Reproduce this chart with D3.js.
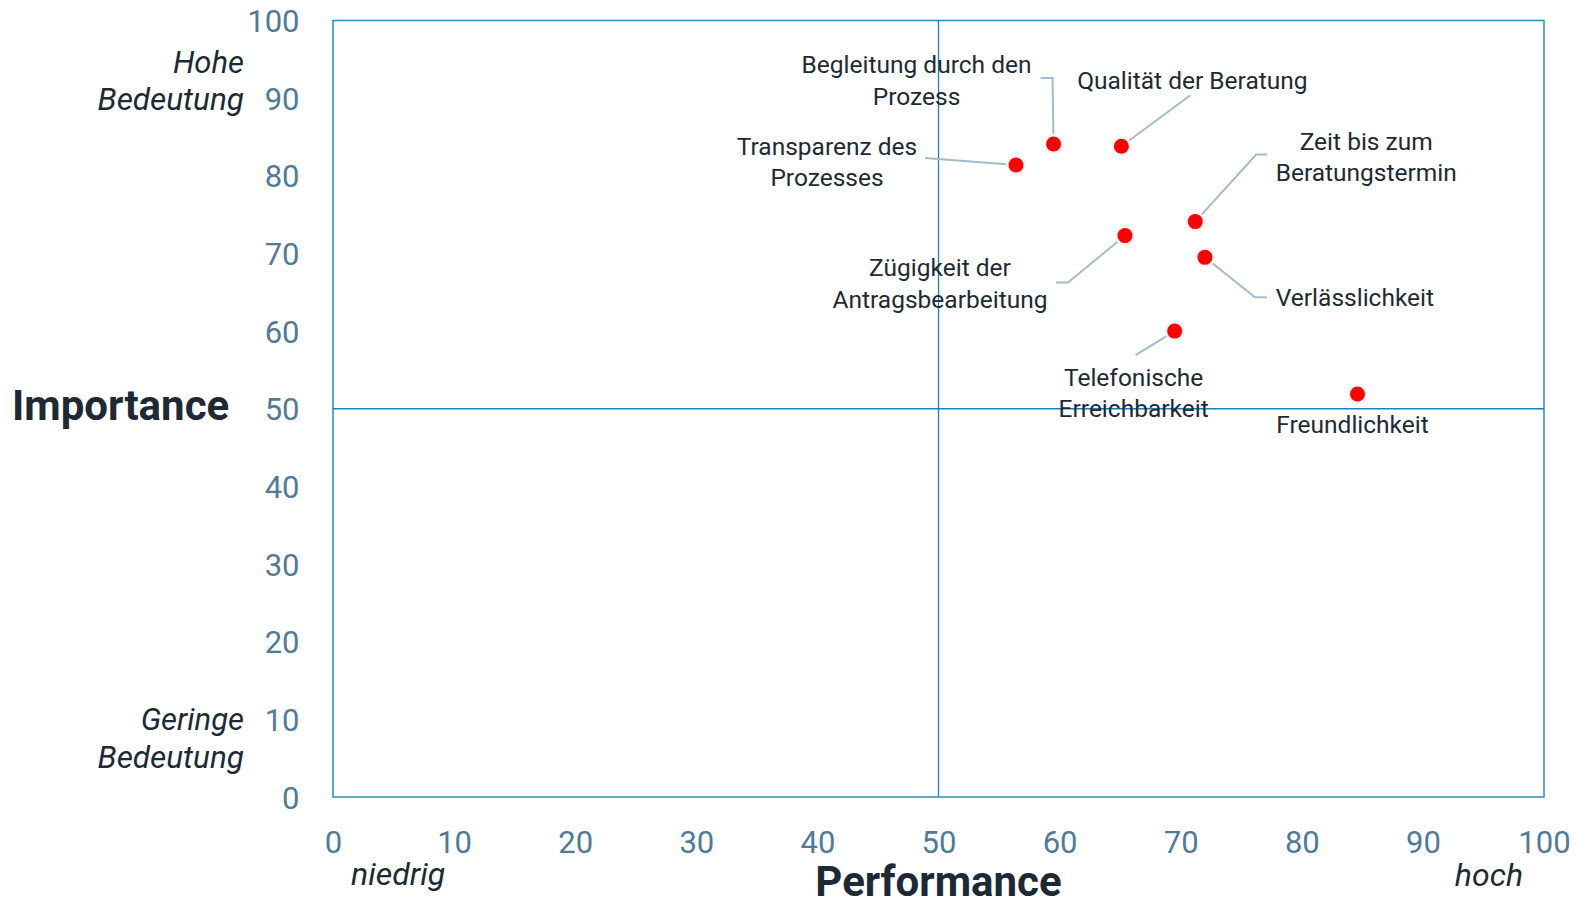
<!DOCTYPE html>
<html lang="de">
<head>
<meta charset="utf-8">
<title>Importance-Performance-Matrix</title>
<script src="https://cdn.jsdelivr.net/npm/d3@7"></script>
<style>
  html, body { margin: 0; padding: 0; background: #ffffff; }
  svg { display: block; font-family: Roboto, "Noto Sans", sans-serif; }
</style>
</head>
<body>
<svg id="chart" width="1577" height="899"></svg>
<script>
// Criteria rated by performance (x) and importance (y)
const criteria = [
  "Begleitung durch den Prozess",
  "Qualität der Beratung",
  "Transparenz des Prozesses",
  "Zeit bis zum Beratungstermin",
  "Zügigkeit der Antragsbearbeitung",
  "Verlässlichkeit",
  "Telefonische Erreichbarkeit",
  "Freundlichkeit"
];
const performance = [59.5, 65.1, 56.4, 71.2, 65.4, 72.0, 69.5, 84.6];
const importance  = [84.1, 83.8, 81.4, 74.1, 72.3, 69.5, 60.0, 51.9];

// Label lines as wrapped in the chart
const labelLines = [
  ["Begleitung durch den", "Prozess"],
  ["Qualität der Beratung"],
  ["Transparenz des", "Prozesses"],
  ["Zeit bis zum", "Beratungstermin"],
  ["Zügigkeit der", "Antragsbearbeitung"],
  ["Verlässlichkeit"],
  ["Telefonische", "Erreichbarkeit"],
  ["Freundlichkeit"]
];

const xTicks = [0, 10, 20, 30, 40, 50, 60, 70, 80, 90, 100];
const yTicks = [0, 10, 20, 30, 40, 50, 60, 70, 80, 90, 100];

// Label placement relative to each point (pixels): text centre and leader line
const labelLayout = [
  { dx: -137, dy: [-80, -48], leader: [[-1, -66], [-13, -66]] },
  { dx: 71,   dy: [-66],      leader: [[69, -51]] },
  { dx: -189, dy: [-19, 12],  leader: [[-91, -7]] },
  { dx: 171,  dy: [-80, -49], leader: [[61, -67], [72, -67]] },
  { dx: -185, dy: [32, 64],   leader: [[-57, 47], [-69, 47]] },
  { dx: 150,  dy: [40],       leader: [[50, 40], [62, 40]] },
  { dx: -41,  dy: [46, 77],   leader: [[-39, 24]] },
  { dx: -5,   dy: [30],       leader: [] }
];

const points = criteria.map((name, i) => ({
  name, x: performance[i], y: importance[i], lines: labelLines[i], layout: labelLayout[i]
}));

const svg = d3.select("#chart");
const plotLeft = 333, plotRight = 1544, plotTop = 20.5, plotBottom = 797;

const x = d3.scaleLinear().domain([0, 100]).range([plotLeft, plotRight]);
const y = d3.scaleLinear().domain([0, 100]).range([plotBottom, plotTop]);

const tickColor = "#4f7b99";
const textColor = "#1d2a36";
const frameColor = "#2a8bc0";

// Frame of the matrix
svg.append("rect")
  .attr("x", x(0)).attr("y", y(100))
  .attr("width", x(100) - x(0)).attr("height", y(0) - y(100))
  .attr("fill", "none")
  .attr("stroke", frameColor)
  .attr("stroke-width", 1.5);

// Quadrant dividers at 50 / 50
svg.append("line")
  .attr("x1", x(50)).attr("x2", x(50))
  .attr("y1", y(100)).attr("y2", y(0))
  .attr("stroke", "#1e80b8").attr("stroke-width", 1.3);
svg.append("line")
  .attr("x1", x(0)).attr("x2", x(100))
  .attr("y1", y(50)).attr("y2", y(50))
  .attr("stroke", "#1e80b8").attr("stroke-width", 1.3);

// Axes (tick labels only)
const xAxis = d3.axisBottom(x).tickValues(xTicks).tickSize(0).tickPadding(0);
const gx = svg.append("g").attr("transform", `translate(0, ${plotBottom})`).call(xAxis);
gx.select(".domain").remove();
gx.selectAll("text")
  .attr("y", 56).attr("dy", null)
  .attr("font-size", 31).attr("font-family", "Roboto")
  .attr("fill", tickColor);

const yAxis = d3.axisLeft(y).tickValues(yTicks).tickSize(0).tickPadding(0);
const gy = svg.append("g").attr("transform", `translate(299.5, 0)`).call(yAxis);
gy.select(".domain").remove();
gy.selectAll("text")
  .attr("x", 0).attr("dy", "0.36em")
  .attr("font-size", 31).attr("font-family", "Roboto")
  .attr("fill", tickColor);

// Axis titles
svg.append("text")
  .attr("x", 12).attr("y", 420)
  .attr("font-size", 42).attr("font-weight", 700)
  .attr("fill", textColor)
  .text("Importance");
svg.append("text")
  .attr("x", x(50)).attr("y", 896)
  .attr("text-anchor", "middle")
  .attr("font-size", 42).attr("font-weight", 700)
  .attr("fill", textColor)
  .text("Performance");

// Scale anchors
const italic = (tx, ty, anchor, txt, size) => svg.append("text")
  .attr("x", tx).attr("y", ty)
  .attr("text-anchor", anchor)
  .attr("font-size", size).attr("font-style", "italic")
  .attr("fill", textColor)
  .text(txt);
italic(244, 72.5, "end", "Hohe", 31);
italic(244, 110, "end", "Bedeutung", 31.5);
italic(244, 730, "end", "Geringe", 31);
italic(244, 768, "end", "Bedeutung", 31.5);
italic(351, 885, "start", "niedrig", 32);
italic(1523, 886, "end", "hoch", 32);

// Leader lines
const leaders = svg.append("g");
points.forEach(p => {
  if (!p.layout.leader.length) return;
  const px = x(p.x), py = y(p.y);
  const path = [[px, py]].concat(p.layout.leader.map(([lx, ly]) => [px + lx, py + ly]));
  leaders.append("path")
    .attr("d", d3.line()(path))
    .attr("fill", "none")
    .attr("stroke", "#a2bccd")
    .attr("stroke-width", 2);
});

// Points
const dots = svg.append("g");
dots.selectAll("circle.halo")
  .data(points).join("circle")
  .attr("class", "halo")
  .attr("cx", d => x(d.x)).attr("cy", d => y(d.y))
  .attr("r", 10)
  .attr("fill", "#f4f4f4");
dots.selectAll("circle.dot")
  .data(points).join("circle")
  .attr("class", "dot")
  .attr("cx", d => x(d.x)).attr("cy", d => y(d.y))
  .attr("r", 7.5)
  .attr("fill", "#ff0000");

// Labels
const labels = svg.append("g");
points.forEach(p => {
  const px = x(p.x), py = y(p.y);
  p.lines.forEach((ln, j) => {
    labels.append("text")
      .attr("x", px + p.layout.dx)
      .attr("y", py + p.layout.dy[j])
      .attr("dy", "0.36em")
      .attr("text-anchor", "middle")
      .attr("font-size", 24.5)
      .attr("fill", textColor)
      .text(ln);
  });
});
</script>
</body>
</html>
